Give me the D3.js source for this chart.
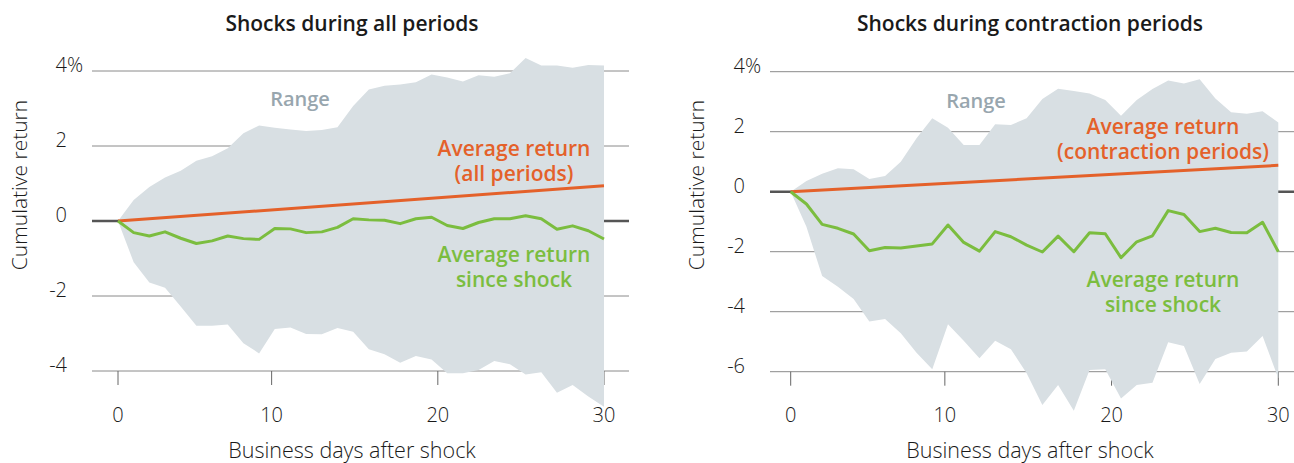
<!DOCTYPE html>
<html>
<head>
<meta charset="utf-8">
<script src="https://cdn.jsdelivr.net/npm/d3@7"></script>
<style>
  body { margin: 0; background: #fff; }
  svg text { font-family: "Open Sans", Lato, sans-serif; }
</style>
</head>
<body>
<svg id="chart" width="1294" height="463"></svg>
<script>
// business days after shock (one point per day)
var days = d3.range(0, 32);
var tickDays = [0, 9.8, 20.4, 31];
var tickLabels = ["0", "10", "20", "30"];

// shocks during all periods
var allTicks = [4, 2, 0, -2, -4];
var allGreen = [0, -0.31, -0.40, -0.29, -0.46, -0.60, -0.53, -0.40, -0.47, -0.49,
    -0.20, -0.21, -0.31, -0.29, -0.17, 0.06, 0.03, 0.02, -0.07, 0.06,
    0.10, -0.12, -0.20, -0.04, 0.06, 0.06, 0.14, 0.06, -0.22, -0.13, -0.26, -0.48];
var allHigh = [0, 0.56, 0.91, 1.16, 1.34, 1.61, 1.73, 1.94, 2.34, 2.55,
    2.49, 2.44, 2.40, 2.43, 2.50, 3.07, 3.51, 3.61, 3.64, 3.70,
    3.91, 3.83, 3.72, 3.89, 3.85, 3.94, 4.35, 4.15, 4.15, 4.09, 4.16, 4.15];
var allLow = [0, -1.10, -1.64, -1.78, -2.28, -2.79, -2.79, -2.76, -3.26, -3.53,
    -2.88, -2.84, -3.01, -3.02, -2.85, -2.95, -3.42, -3.55, -3.78, -3.60,
    -3.69, -4.06, -4.06, -3.97, -3.73, -3.82, -4.09, -4.03, -4.58, -4.37, -4.68, -4.95];
var allOrange = [[0, 0], [31, 0.94]];

// shocks during contraction periods
var conTicks = [4, 2, 0, -2, -4, -6];
var conGreen = [0, -0.41, -1.09, -1.22, -1.41, -1.97, -1.86, -1.88, -1.81, -1.74,
    -1.11, -1.69, -1.98, -1.33, -1.50, -1.78, -2.01, -1.48, -2.00, -1.37,
    -1.40, -2.20, -1.67, -1.47, -0.63, -0.76, -1.33, -1.22, -1.36, -1.37, -1.02, -2.00];
var conHigh = [0, 0.36, 0.60, 0.78, 0.75, 0.42, 0.52, 1.00, 1.78, 2.45,
    2.13, 1.56, 1.56, 2.25, 2.22, 2.45, 3.09, 3.43, 3.36, 3.27,
    3.06, 2.53, 3.06, 3.42, 3.71, 3.61, 3.75, 3.11, 2.65, 2.60, 2.68, 2.31];
var conLow = [0, -1.17, -2.81, -3.17, -3.58, -4.33, -4.24, -4.72, -5.37, -5.92,
    -4.42, -4.97, -5.55, -4.97, -5.25, -6.05, -7.11, -6.44, -7.30, -5.94,
    -5.92, -6.89, -6.44, -6.37, -5.02, -5.14, -6.41, -5.58, -5.37, -5.33, -4.81, -6.22];
var conOrange = [[0, 0], [31, 0.88]];

var svg = d3.select('#chart');

// two-line note as one text element
function note(g, lines, xPos, yPos, color) {
    var t = g.append('text')
        .attr('x', xPos).attr('y', yPos)
        .attr('text-anchor', 'middle')
        .attr('font-size', '21px').attr('font-weight', 600).attr('fill', color);
    lines.forEach(function(line, i) {
        t.append('tspan')
            .attr('x', xPos)
            .attr('dy', i === 0 ? 0 : 24.5)
            .text(line);
    });
}

// draws one panel
function drawPanel(p) {
    var x = d3.scaleLinear().domain([0, 31]).range([p.x0, p.x1]);
    var y = d3.scaleLinear().domain([p.ticks[p.ticks.length - 1], p.ticks[0]])
        .range([p.yBottom, p.yTop]);
    var g = svg.append('g');

    g.append('text')
        .attr('x', p.cx).attr('y', 31)
        .attr('text-anchor', 'middle')
        .attr('font-size', '21px').attr('font-weight', 600)
        .attr('fill', '#1a1a1a')
        .text(p.title);

    // gridlines
    g.selectAll('.grid').data(p.ticks).enter()
        .append('line')
        .attr('x1', p.gx0).attr('x2', p.gx1)
        .attr('y1', function(d) { return y(d); })
        .attr('y2', function(d) { return y(d); })
        .attr('stroke', function(d) { return d === 0 ? '#555' : '#8a8a8a'; })
        .attr('stroke-width', function(d) { return d === 0 ? 2.5 : 1; });

    g.selectAll('.ylab').data(p.ticks).enter()
        .append('text')
        .attr('x', p.labelX)
        .attr('y', function(d) { return y(d) + 1; })
        .attr('text-anchor', 'end')
        .attr('font-size', '20px').attr('font-weight', 300)
        .attr('fill', '#1a1a1a')
        .text(function(d) { return d; });
    g.append('text')
        .attr('x', p.labelX).attr('y', y(p.ticks[0]) + 1)
        .attr('font-size', '20px').attr('font-weight', 300).attr('fill', '#1a1a1a')
        .text('%');

    // x ticks
    var yb = y(p.ticks[p.ticks.length - 1]);
    g.selectAll('.xtick').data(tickDays).enter()
        .append('line')
        .attr('x1', function(d) { return x(d); })
        .attr('x2', function(d) { return x(d); })
        .attr('y1', yb).attr('y2', yb + 14)
        .attr('stroke', '#666').attr('stroke-width', 1);
    g.selectAll('.xlab').data(tickDays).enter()
        .append('text')
        .attr('x', function(d) { return x(d); })
        .attr('y', 422)
        .attr('text-anchor', 'middle')
        .attr('font-size', '20px').attr('font-weight', 300).attr('fill', '#1a1a1a')
        .text(function(d, i) { return tickLabels[i]; });

    g.append('text')
        .attr('x', p.cx).attr('y', 458)
        .attr('text-anchor', 'middle')
        .attr('font-size', '21.5px').attr('font-weight', 300).attr('fill', '#1a1a1a')
        .text('Business days after shock');
    g.append('text')
        .attr('transform', 'translate(' + p.axisTitleX + ',185) rotate(-90)')
        .attr('text-anchor', 'middle')
        .attr('font-size', '21px').attr('font-weight', 300).attr('fill', '#1a1a1a')
        .text('Cumulative return');

    // range
    var area = d3.area()
        .x(function(d) { return x(d); })
        .y0(function(d, i) { return y(p.low[i]); })
        .y1(function(d, i) { return y(p.high[i]); });
    g.append('path').datum(days)
        .attr('d', area)
        .attr('fill', '#d8dfe3');

    g.append('path').datum(p.orange)
        .attr('d', d3.line().x(function(d) { return x(d[0]); }).y(function(d) { return y(d[1]); }))
        .attr('fill', 'none').attr('stroke', '#e4612a').attr('stroke-width', 3);

    g.append('path').datum(days)
        .attr('d', d3.line().x(function(d) { return x(d); }).y(function(d, i) { return y(p.green[i]); }))
        .attr('fill', 'none').attr('stroke', '#7bbd3f').attr('stroke-width', 3)
        .attr('stroke-linejoin', 'round');

    // annotations
    g.append('text')
        .attr('x', p.rangeX).attr('y', p.rangeY)
        .attr('text-anchor', 'middle')
        .attr('font-size', '20px').attr('font-weight', 600).attr('fill', '#98a6ae')
        .text('Range');
    note(g, p.orangeText, p.noteX, p.orangeY, '#e4612a');
    note(g, ['Average return', 'since shock'], p.noteX, p.greenY, '#7bbd3f');
}

drawPanel({
    title: 'Shocks during all periods', cx: 352,
    x0: 118, x1: 604, gx0: 92, gx1: 629, yTop: 71, yBottom: 371,
    ticks: allTicks, labelX: 67, axisTitleX: 27,
    green: allGreen, high: allHigh, low: allLow, orange: allOrange,
    rangeX: 300, rangeY: 106, noteX: 514, orangeY: 156,
    orangeText: ['Average return', '(all periods)'], greenY: 262
});
drawPanel({
    title: 'Shocks during contraction periods', cx: 1030,
    x0: 790.7, x1: 1278.3, gx0: 770, gx1: 1294, yTop: 71.7, yBottom: 371.7,
    ticks: conTicks, labelX: 745, axisTitleX: 704,
    green: conGreen, high: conHigh, low: conLow, orange: conOrange,
    rangeX: 976, rangeY: 108, noteX: 1163, orangeY: 134,
    orangeText: ['Average return', '(contraction periods)'], greenY: 287
});
</script>
</body>
</html>
